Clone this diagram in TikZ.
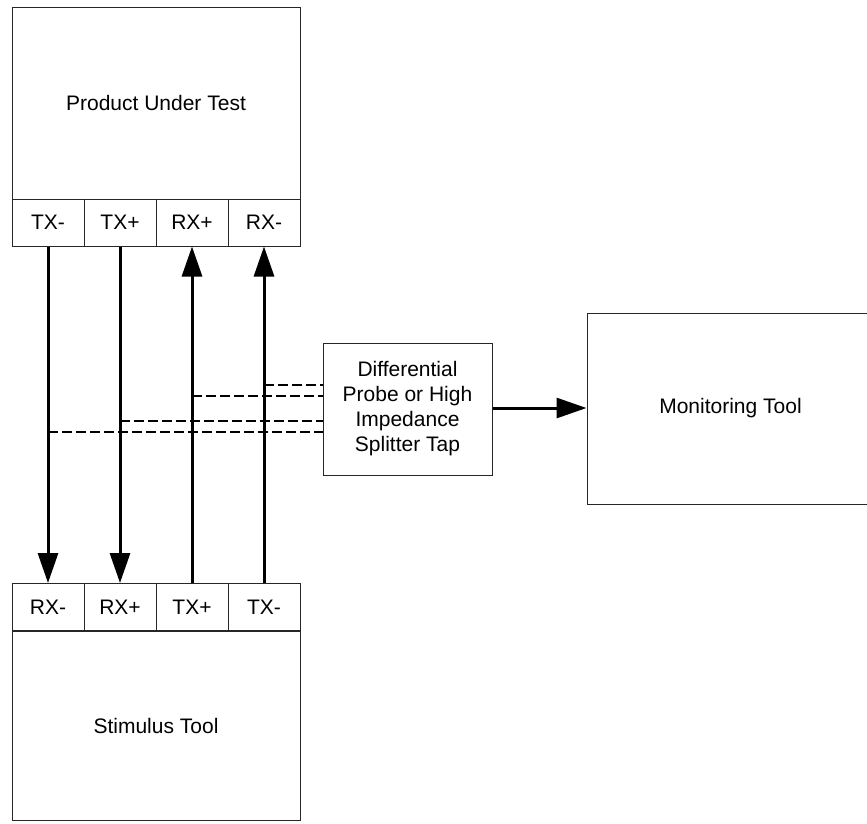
\documentclass[tikz,border=0pt]{standalone}
\usepackage{fontspec}
\setmainfont{Liberation Sans}
\usetikzlibrary{arrows.meta}
\begin{document}
\begin{tikzpicture}[x=1pt,y=-1pt,
  box/.style={draw=black!85,line width=1pt,rectangle,inner sep=0pt,align=center,
    font=\fontsize{21}{25}\selectfont},
  port/.style={box,minimum width=72pt,minimum height=47pt},
  arr/.style={line width=3pt,-{Triangle[length=30pt,width=20pt]}},
  tap/.style={line width=2.8pt,dash pattern=on 10pt off 4pt}]
\useasboundingbox (0,0) rectangle (867,823);
% Product under test
\node[box,minimum width=288pt,minimum height=192pt] (put) at (156,103) {Product Under Test};
\node[port] (t1) at (48,222.5) {TX-};
\node[port] (t2) at (120,222.5) {TX+};
\node[port] (t3) at (192,222.5) {RX+};
\node[port] (t4) at (264,222.5) {RX-};
% Stimulus tool
\node[port] (b1) at (48,607) {RX-};
\node[port] (b2) at (120,607) {RX+};
\node[port] (b3) at (192,607) {TX+};
\node[port] (b4) at (264,607) {TX-};
\node[box,minimum width=288pt,minimum height=189pt] (stim) at (156,725.5) {Stimulus Tool};
% Probe and monitor
\node[box,minimum width=169pt,minimum height=132pt] (probe) at (407.5,409)
  {Differential\\Probe or High\\Impedance\\Splitter Tap};
\node[box,minimum width=287pt,minimum height=191pt] (mon) at (730.5,408.5) {Monitoring Tool};
% signal lines
\draw[arr] (t1.south) -- (b1.north);
\draw[arr] (t2.south) -- (b2.north);
\draw[arr] (b3.north) -- (t3.south);
\draw[arr] (b4.north) -- (t4.south);
\draw[arr] (probe.east |- 0,408) -- (mon.west |- 0,408);
% taps
\coordinate (d4) at (264,385);
\coordinate (d3) at (192,396);
\coordinate (d2) at (120,421);
\coordinate (d1) at (48,432);
\draw[tap] (d4) -- (d4 -| probe.west);
\draw[tap] (d3) -- (d3 -| probe.west);
\draw[tap] (d2) -- (d2 -| probe.west);
\draw[tap] (d1) -- (d1 -| probe.west);
\end{tikzpicture}
\end{document}
